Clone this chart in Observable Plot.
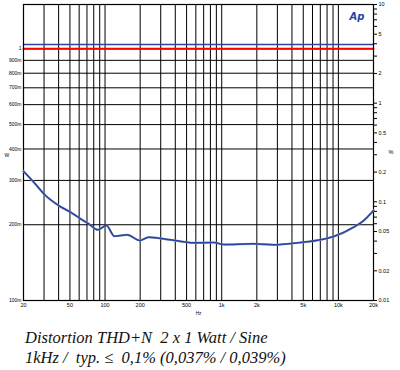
<!DOCTYPE html>
<html>
<head>
<meta charset="utf-8">
<script src="https://cdn.jsdelivr.net/npm/d3@7"></script>
<script src="https://cdn.jsdelivr.net/npm/@observablehq/plot@0.6"></script>
<style>
  body { margin: 0; background: #fff; }
  #wrap { position: relative; width: 400px; height: 318px; }
  #wrap svg { position: absolute; left: 0; top: 0; background: transparent; }
  #cap { font-family: "Liberation Serif", serif; font-style: italic; font-size: 16.5px; line-height: 20px; color: #111; padding-left: 25px; padding-top: 10px; white-space: pre; }
</style>
</head>
<body>
<div id="wrap"></div>
<div id="cap">Distortion THD+N  2 x 1 Watt / Sine
1kHz /  typ. ≤  0,1% (0,037% / 0,039%)</div>
<script>
// THD+N curve (frequency in Hz, THD+N in %)
const freq = [20, 24.5, 30.9, 40.1, 50.6, 61.6, 72.6, 86.7, 102.8, 120.5, 154.8, 198.6, 237, 364, 576, 855, 1041, 1880, 2790, 4730, 7010, 9120, 13530, 16480, 20000];
const thd  = [0.204, 0.158, 0.116, 0.0917, 0.0785, 0.0673, 0.0598, 0.052, 0.0575, 0.0448, 0.0463, 0.0406, 0.0438, 0.0412, 0.0384, 0.0387, 0.0369, 0.0375, 0.0367, 0.0387, 0.0412, 0.0445, 0.0553, 0.0646, 0.0817];

// output power lines (W)
const powerFreq = [20, 20000];
const powerBlue = [1.04, 1.04];
const powerRed  = [1.0, 1.0];

// axes
const xGrid = [30,40,50,60,70,80,90,100,200,300,400,500,600,700,800,900,1000,2000,3000,4000,5000,6000,7000,8000,9000,10000];
const xTicks = [20,50,100,200,500,1000,2000,5000,10000,20000];
const xTickLabels = ["20","50","100","200","500","1k","2k","5k","10k","20k"];
const wTicks = [0.1,0.2,0.3,0.4,0.5,0.6,0.7,0.8,0.9,1];
const wTickLabels = ["100m","200m","300m","400m","500m","600m","700m","800m","900m","1"];
const pctTicks = [0.01,0.02,0.05,0.1,0.2,0.5,1,2,5,10];
const pctTickLabels = ["0.01","0.02","0.05","0.1","0.2","0.5","1","2","5","10"];
const pctMinor = [0.03,0.04,0.06,0.07,0.08,0.09,0.3,0.4,0.6,0.7,0.8,0.9,3,4,6,7,8,9];

const W = 400, H = 318;
const margins = {marginTop: 4, marginBottom: H - 300, marginLeft: 23, marginRight: 27};
const xScale = {type: "log", domain: [20, 20000], axis: null};
const font = "Liberation Sans, Arial, sans-serif";

const curve = freq.map((f, i) => ({f, v: thd[i]}));
const pBlue = powerFreq.map((f, i) => ({f, v: powerBlue[i]}));
const pRed = powerFreq.map((f, i) => ({f, v: powerRed[i]}));
const xLab = xTicks.map((t, i) => ({t, s: xTickLabels[i]}));
const wLab = wTicks.map((t, i) => ({t, s: wTickLabels[i]}));
const pLab = pctTicks.map((t, i) => ({t, s: pctTickLabels[i]}));

const p1 = Plot.plot({
  width: W, height: H, ...margins,
  style: {fontFamily: font, fontSize: "5px", color: "#000", background: "transparent"},
  x: xScale,
  y: {type: "log", domain: [0.1, 1.5], axis: null},
  marks: [
    Plot.ruleX(xGrid, {stroke: "#000", strokeWidth: 1}),
    Plot.ruleY(wTicks.slice(1), {stroke: "#000", strokeWidth: 1}),
    Plot.lineY(pBlue, {x: "f", y: "v", stroke: "#2b45a8", strokeWidth: 1.5}),
    Plot.lineY(pRed, {x: "f", y: "v", stroke: "#ff0000", strokeWidth: 2}),
    Plot.text(wLab, {y: "t", text: "s", frameAnchor: "left", dx: -2, textAnchor: "end", fontSize: 5}),
    Plot.text(xLab, {x: "t", text: "s", frameAnchor: "bottom", dy: 6, fontSize: 5.5}),
    Plot.text(["W"], {frameAnchor: "left", dx: -19, dy: 3, fontSize: 5}),
    Plot.text(["Hz"], {frameAnchor: "bottom", dy: 14, fontSize: 4.5}),
    Plot.frame({stroke: "#000", strokeWidth: 1.2})
  ]
});

const p2 = Plot.plot({
  width: W, height: H, ...margins,
  style: {fontFamily: font, fontSize: "5.5px", color: "#000", background: "transparent"},
  x: xScale,
  y: {type: "log", domain: [0.01, 10]},
  marks: [
    Plot.lineY(curve, {x: "f", y: "v", stroke: "#9aa0b0", strokeWidth: 2.2, curve: "monotone-x"}),
    Plot.lineY(curve, {x: "f", y: "v", stroke: "#2443a6", strokeWidth: 1.5, curve: "monotone-x"}),
    Plot.axisY(pctMinor, {anchor: "right", tickSize: 3, tickFormat: () => "", label: null}),
    Plot.axisY(pctTicks, {anchor: "right", tickSize: 3, tickFormat: () => "", label: null}),
    Plot.text(pLab, {y: "t", text: "s", frameAnchor: "right", dx: 5, textAnchor: "start", fontSize: 5.5}),
    Plot.text(["%"], {frameAnchor: "right", dx: 20, fontSize: 5.5}),
    Plot.text(["Ap"], {frameAnchor: "top-right", dx: -9, dy: 8, fontSize: 10, fontWeight: "bold", fontStyle: "italic", fill: "#2443a6", fontFamily: "DejaVu Sans"})
  ]
});

const wrap = document.getElementById("wrap");
wrap.appendChild(p1);
wrap.appendChild(p2);
</script>
</body>
</html>
